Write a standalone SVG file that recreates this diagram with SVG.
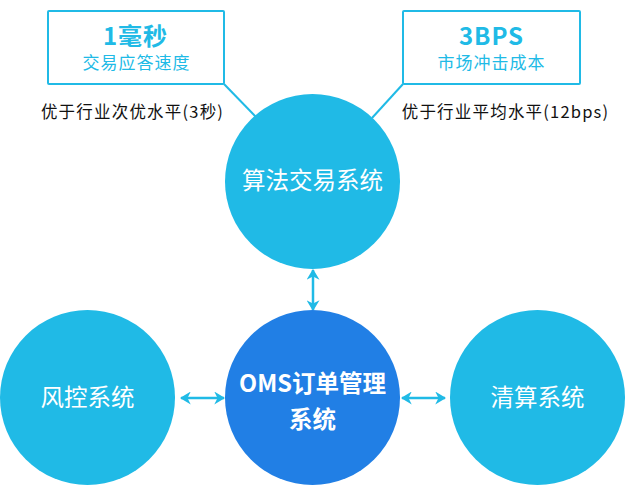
<svg xmlns="http://www.w3.org/2000/svg" width="625" height="492" viewBox="0 0 625 492">
<defs>
<style>
.c{fill:#20BAE6}
.m{fill:#217FE5}
.lbl{font-family:"Noto Sans CJK SC","Noto Sans",sans-serif;fill:#fff;font-size:23.5px;text-anchor:middle}
.b{font-weight:bold}
.box{fill:#fff;stroke:#20BAE6;stroke-width:2}
.t{font-family:"Noto Sans CJK SC","Noto Sans",sans-serif;fill:#20BAE6;text-anchor:middle}
.h{font-size:24px;letter-spacing:1px}
.n{font-family:"Noto Sans CJK SC","Noto Sans",sans-serif;fill:#111;font-size:16.5px;letter-spacing:1.2px;text-anchor:middle}
.ln{stroke:#20BAE6;stroke-width:2;fill:none}
.ar{stroke:#20BAE6;stroke-width:2.5;fill:none}
</style>
<marker id="ah" viewBox="0 0 10 12" refX="9" refY="6" markerWidth="4.4" markerHeight="5.2" orient="auto-start-reverse" markerUnits="strokeWidth">
<path d="M0,0 L10,6 L0,12 L3,6 Z" fill="#20BAE6"/>
</marker>
</defs>
<g id="connectors">
<line class="ln" x1="224" y1="84" x2="256" y2="117"/>
<line class="ln" x1="403" y1="84" x2="372" y2="118"/>
<line class="ar" x1="313" y1="270" x2="313" y2="310" marker-start="url(#ah)" marker-end="url(#ah)"/>
<line class="ar" x1="181" y1="398" x2="224" y2="398" marker-start="url(#ah)" marker-end="url(#ah)"/>
<line class="ar" x1="402" y1="398" x2="445" y2="398" marker-start="url(#ah)" marker-end="url(#ah)"/>
</g>
<g id="box-latency">
<rect class="box" x="48" y="11" width="176" height="73" rx="1"/>
<text class="t b h" x="135.5" y="45">1毫秒</text>
<text class="t" x="136.5" y="69" font-size="17" letter-spacing="1">交易应答速度</text>
<text class="n" x="132.5" y="118">优于行业次优水平(3秒)</text>
</g>
<g id="box-cost">
<rect class="box" x="403" y="11" width="177" height="73" rx="1"/>
<text class="t b h" x="491.5" y="45">3BPS</text>
<text class="t" x="491.5" y="69" font-size="17" letter-spacing="1">市场冲击成本</text>
<text class="n" x="505.5" y="118">优于行业平均水平(12bps)</text>
</g>
<g id="algo">
<circle class="c" cx="312.5" cy="181.5" r="87.5"/>
<text class="lbl" x="312.5" y="189">算法交易系统</text>
</g>
<g id="risk">
<circle class="c" cx="87.5" cy="397.5" r="87.5"/>
<text class="lbl" x="87.5" y="406">风控系统</text>
</g>
<g id="oms">
<circle class="m" cx="312.5" cy="397.5" r="87.5"/>
<text class="lbl b" x="312.5" y="392" font-size="24">OMS订单管理</text>
<text class="lbl b" x="312.5" y="428" font-size="24">系统</text>
</g>
<g id="clearing">
<circle class="c" cx="537.5" cy="397.5" r="87.5"/>
<text class="lbl" x="537.5" y="406">清算系统</text>
</g>
</svg>
